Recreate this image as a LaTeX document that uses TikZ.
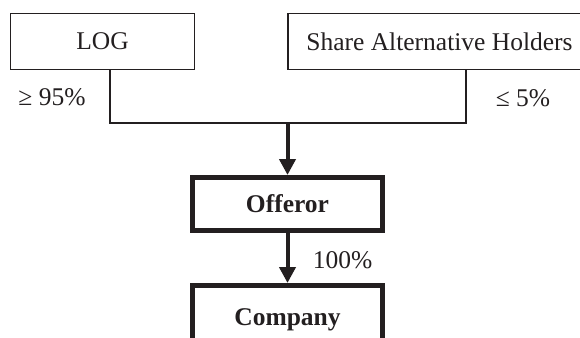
\documentclass[tikz,border=0pt]{standalone}
\usepackage{fontspec}
\setmainfont{Liberation Serif}
\usetikzlibrary{arrows.meta}
\definecolor{ink}{RGB}{35,31,32}

\begin{document}
\begin{tikzpicture}[x=1pt, y=-1pt, ink,
    holder/.style={draw, line width=1.2pt, minimum height=56pt, inner sep=0pt, font=\fontsize{25.5}{30}\selectfont},
    entity/.style={draw, line width=5pt, minimum width=190pt, minimum height=53pt, inner sep=0pt, font=\fontsize{25.5}{30}\selectfont\bfseries},
    pct/.style={font=\fontsize{25.5}{30}\selectfont, inner sep=0pt},
    owns/.style={line width=4pt, -{Triangle[width=16pt,length=16pt]}}]

    \useasboundingbox (0,0) rectangle (580,337);
    \clip (0,0) rectangle (580,337);

    \node[holder, minimum width=184pt] (log) at (102.5,41.5) {LOG};
    \node[holder, minimum width=303pt] (share) at (439.5,41.5) {Share Alternative Holders};

    \node[entity] (offeror) at (287.5,204) {Offeror};
    % box runs on below the page edge
    \node[entity, anchor=north, text height=39.5pt, text depth=20pt] (company) at (287.5,283) {Company};

    \coordinate (join) at (287.5,123);

    \draw[line width=1.2pt] ([xshift=7.5pt]log.south) |- (join) -| ([xshift=26.5pt]share.south);

    \draw[owns] (join) -- (offeror.north);
    \draw[owns] (offeror.south) -- (company.north);

    \node[pct] (loglab) at (52,97) {≥ 95\%};
    \node[pct] (sharelab) at (523,98) {≤ 5\%};
    \node[pct] (offlab) at (342.5,260) {100\%};

\end{tikzpicture}
\end{document}
